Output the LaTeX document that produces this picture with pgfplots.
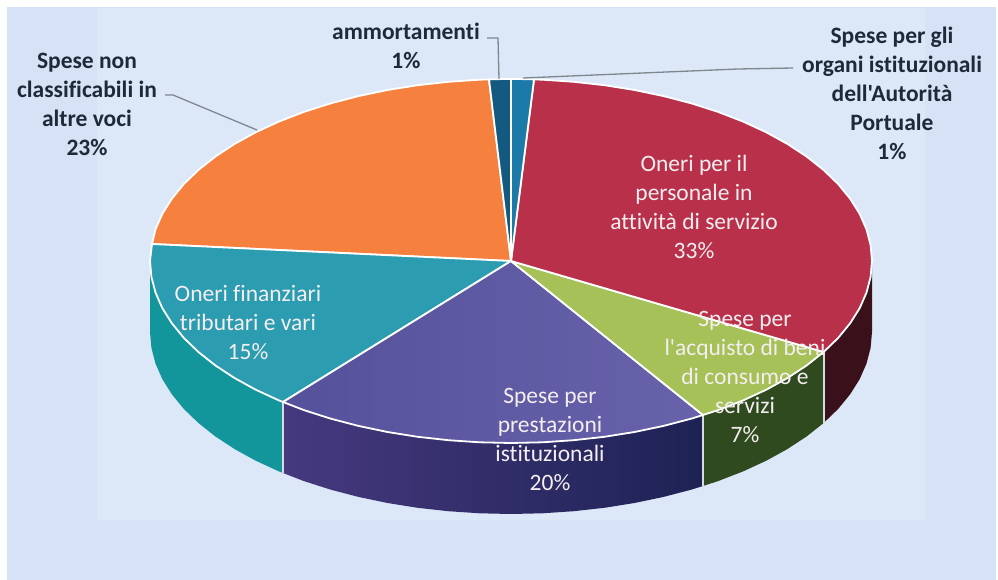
\documentclass[border=0pt]{standalone}
\usepackage{pgfplots}
\pgfplotsset{compat=1.18}
\usepackage{fontspec}
\setmainfont[Ligatures={TeXOff,NoCommon}]{Carlito}
\definecolor{bgout}{HTML}{D6E3F6}
\definecolor{bgin}{HTML}{DCE7F8}
\definecolor{cdb}{HTML}{14597F}
\definecolor{clb}{HTML}{1C7AA8}
\definecolor{cred}{HTML}{B9304A}
\definecolor{cgreen}{HTML}{A5C158}
\definecolor{cpurp}{HTML}{5A55A3}
\definecolor{cteal}{HTML}{2C9DB0}
\definecolor{corange}{HTML}{F6813F}
\definecolor{sred}{HTML}{3A111A}
\definecolor{sgreen}{HTML}{2F4A1E}
\definecolor{spurpl}{HTML}{46397F}
\definecolor{spurpr}{HTML}{1D2254}
\definecolor{steal}{HTML}{12969C}
\definecolor{dk}{HTML}{1E2A38}
\definecolor{lead}{HTML}{7C878E}
\definecolor{sep}{HTML}{D8DBDC}
\definecolor{lt}{HTML}{F5EEF0}
\begin{document}
\begin{tikzpicture}
\begin{axis}[
  scale only axis, width=998pt, height=580pt,
  xmin=0, xmax=998, ymin=0, ymax=580, y dir=reverse,
  axis lines=none, clip=false, no markers,
  every axis plot/.append style={line join=round}
]
% background
\addplot[fill=white, draw=none] coordinates {(0,0)(998,0)(998,580)(0,580)} -- cycle;
\addplot[fill=bgout, draw=none] coordinates {(7,7)(996,7)(996,580)(7,580)} -- cycle;
\addplot[fill=bgin, draw=none] coordinates {(97,8)(925,8)(925,520)(97,520)} -- cycle;
% side walls
\addplot[fill=sred, draw=none] coordinates {(872,261)(870.6,276.9)(866.5,292.6)(859.7,308.1)(850.2,323.2)(838.2,337.9)(823.6,352)(823.6,423)(838.2,408.9)(850.2,394.2)(859.7,379.1)(866.5,363.6)(870.6,347.9)(872,332)} -- cycle;
\addplot[fill=sgreen, draw=none] coordinates {(823.6,352)(806.7,365.4)(787.5,378)(766.3,389.7)(743.1,400.4)(718.1,410.1)(703,415)(703,486)(718.1,481.1)(743.1,471.4)(766.3,460.7)(787.5,449)(806.7,436.4)(823.6,423)} -- cycle;
\addplot[left color=spurpl, right color=spurpr, draw=none] coordinates {(703,415)(691.5,418.6)(663.6,425.9)(634.5,432)(604.4,436.8)(573.7,440.2)(542.5,442.3)(511,443)(479.5,442.3)(448.3,440.2)(417.6,436.8)(387.5,432)(358.4,425.9)(330.5,418.6)(303.9,410.1)(283,402)(283,473)(303.9,481.1)(330.5,489.6)(358.4,496.9)(387.5,503)(417.6,507.8)(448.3,511.2)(479.5,513.3)(511,514)(542.5,513.3)(573.7,511.2)(604.4,507.8)(634.5,503)(663.6,496.9)(691.5,489.6)(703,486)} -- cycle;
\addplot[fill=steal, draw=none] coordinates {(283,402)(278.9,400.4)(255.7,389.7)(234.5,378)(215.3,365.4)(198.4,352)(183.8,337.9)(171.8,323.2)(162.3,308.1)(155.5,292.6)(151.4,276.9)(150,261)(150,332)(151.4,347.9)(155.5,363.6)(162.3,379.1)(171.8,394.2)(183.8,408.9)(198.4,423)(215.3,436.4)(234.5,449)(255.7,460.7)(278.9,471.4)(283,473)} -- cycle;
% wall separators
\addplot[sep, line width=2pt] coordinates {(283,402)(283,473)};
\addplot[sep, line width=2pt] coordinates {(703,415)(703,486)};
\addplot[sep, line width=2pt] coordinates {(823.6,352)(823.6,423)};
% top faces
\addplot[fill=corange, draw=white, line width=1.8pt] coordinates {(511,261)(152,244)(155.5,229.4)(162.3,213.9)(171.8,198.8)(183.8,184.1)(198.4,170)(215.3,156.6)(234.5,144)(255.7,132.3)(278.9,121.6)(303.9,111.9)(330.5,103.4)(358.4,96.1)(387.5,90)(417.6,85.2)(448.3,81.8)(479.5,79.7)(489,79.4)} -- cycle;
\addplot[fill=cteal, draw=white, line width=1.8pt] coordinates {(511,261)(283,402)(278.9,400.4)(255.7,389.7)(234.5,378)(215.3,365.4)(198.4,352)(183.8,337.9)(171.8,323.2)(162.3,308.1)(155.5,292.6)(151.4,276.9)(150,261)(152,244)} -- cycle;
\addplot[left color=cpurp!95!black, right color=cpurp!92!white, draw=white, line width=1.8pt] coordinates {(511,261)(703,415)(691.5,418.6)(663.6,425.9)(634.5,432)(604.4,436.8)(573.7,440.2)(542.5,442.3)(511,443)(479.5,442.3)(448.3,440.2)(417.6,436.8)(387.5,432)(358.4,425.9)(330.5,418.6)(303.9,410.1)(283,402)} -- cycle;
\addplot[fill=cgreen, draw=white, line width=1.8pt] coordinates {(511,261)(823.6,352)(806.7,365.4)(787.5,378)(766.3,389.7)(743.1,400.4)(718.1,410.1)(703,415)} -- cycle;
\addplot[fill=cred, draw=white, line width=1.8pt] coordinates {(511,261)(534,79.4)(542.5,79.7)(573.7,81.8)(604.4,85.2)(634.5,90)(663.6,96.1)(691.5,103.4)(718.1,111.9)(743.1,121.6)(766.3,132.3)(787.5,144)(806.7,156.6)(823.6,170)(838.2,184.1)(850.2,198.8)(859.7,213.9)(866.5,229.4)(870.6,245.1)(872,261)(870.6,276.9)(866.5,292.6)(859.7,308.1)(850.2,323.2)(838.2,337.9)(823.6,352)} -- cycle;
\addplot[fill=cdb, draw=white, line width=1.8pt] coordinates {(511,261)(489,79.4)(500,79.1)(511,79)} -- cycle;
\addplot[fill=clb, draw=white, line width=1.8pt] coordinates {(511,261)(511,79)(522,79.1)(534,79.4)} -- cycle;
% leaders
\addplot[lead, line width=1.3pt] coordinates {(165,95)(173,95)(257,130)};
\addplot[lead, line width=1.3pt] coordinates {(487,38)(498,38)(499,79)};
\addplot[lead, line width=1.3pt] coordinates {(793,68)(738,69)(523,78)};
% labels
\newcommand{\lab}[3]{\node[align=center,text=#2,font=\fontsize{23.5}{29}\selectfont\bfseries,inner sep=0pt] at (axis cs:#1) {#3};}
\newcommand{\lbw}[2]{\node[align=center,text=lt,font=\fontsize{23.5}{29}\selectfont,inner sep=0pt] at (axis cs:#1) {#2};}
\lab{87,104}{dk}{Spese non\\classificabili in\\altre voci\\23\%}
\lab{406,46}{dk}{ammortamenti\\1\%}
\lab{892,93}{dk}{Spese per gli\\organi istituzionali\\dell'Autorità\\Portuale\\1\%}
\lbw{694,207}{Oneri per il\\personale in\\attività di servizio\\33\%}
\lbw{248,323}{Oneri finanziari\\tributari e vari\\15\%}
\lbw{550,439}{Spese per\\prestazioni\\istituzionali\\20\%}
\lbw{745,377}{Spese per\\l'acquisto di beni\\di consumo e\\servizi\\7\%}
\end{axis}
\end{tikzpicture}
\end{document}
